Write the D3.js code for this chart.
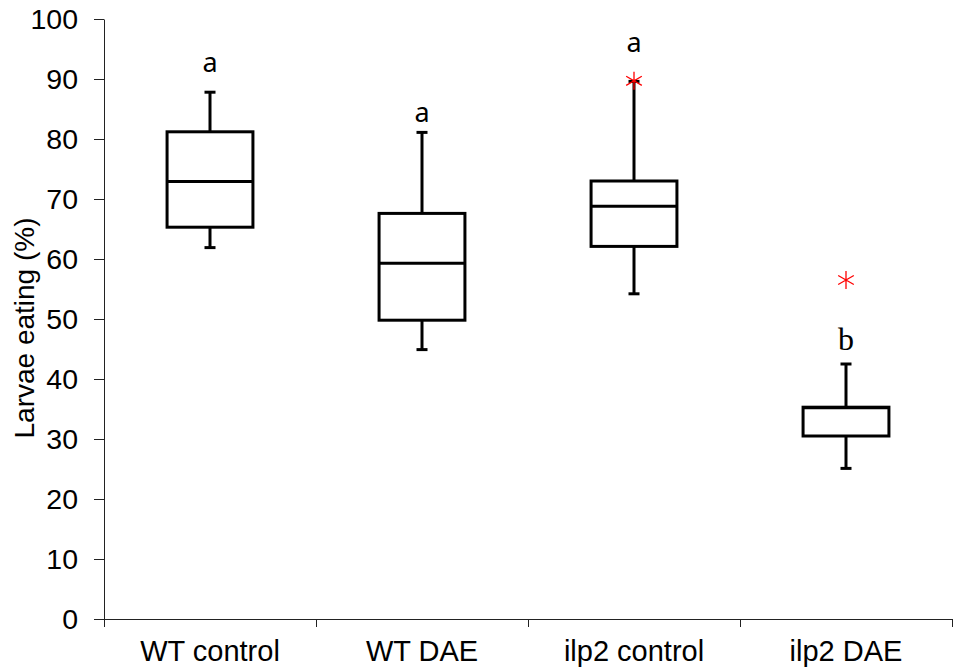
<!DOCTYPE html>
<html>
<head>
<meta charset="utf-8">
<script src="https://cdn.jsdelivr.net/npm/d3@7"></script>
<style>
body { margin: 0; background: #fff; }
</style>
</head>
<body>
<svg id="chart"></svg>
<script>
// values
const categories = ["WT control", "WT DAE", "ilp2 control", "ilp2 DAE"];
const whiskerLow = [61.9, 44.9, 54.2, 25.1];
const quartile1 = [65.3, 49.8, 62.1, 30.5];
const medians = [72.9, 59.3, 68.8, 35.2];
const quartile3 = [81.2, 67.6, 73.0, 35.3];
const whiskerHigh = [87.8, 81.1, 89.6, 42.5];
const outlierCats = ["ilp2 control", "ilp2 DAE"];
const outlierValues = [89.7, 56.5];
const groupLetters = ["a", "a", "a", "b"];
const letterLevels = [91.2, 82.9, 94.5, 44.8];
const yTicks = [0, 10, 20, 30, 40, 50, 60, 70, 80, 90, 100];

const margin = { top: 19, right: 13, bottom: 51, left: 104 };
const width = 965 - margin.left - margin.right;
const height = 670 - margin.top - margin.bottom;
const labelFont = "'Liberation Sans', Arial, sans-serif";

const svg = d3.select("#chart")
    .attr("width", 965)
    .attr("height", 670);

const g = svg.append("g")
    .attr("transform", `translate(${margin.left},${margin.top})`);

const x = d3.scaleBand().domain(categories).range([0, width]).padding(0);
const xEdges = d3.scaleLinear().domain([0, categories.length]).range([0, width]);
const y = d3.scaleLinear().domain([0, 100]).range([height, 0]);

const boxW = x.bandwidth() * 0.405;
const capW = 11;

// y axis
const yAxis = g.append("g")
    .call(d3.axisLeft(y).tickValues(yTicks).tickSize(10).tickSizeOuter(0).tickPadding(16));
yAxis.selectAll("text")
    .style("font-family", labelFont)
    .style("font-size", "28.5px")
    .attr("fill", "#000");
yAxis.selectAll("line, path").attr("stroke", "#222");

// x axis: ticks on the category edges, labels in the middle
const xAxis = g.append("g")
    .attr("transform", `translate(0,${height})`)
    .call(d3.axisBottom(xEdges).ticks(categories.length).tickFormat("").tickSize(8).tickSizeOuter(0));
xAxis.selectAll("line, path").attr("stroke", "#222");
xAxis.select(".domain").attr("d", `M-9,0.5H${width}`);

const xLabels = g.append("g")
    .attr("transform", `translate(0,${height})`)
    .call(d3.axisBottom(x).tickSize(0).tickPadding(21));
xLabels.select(".domain").remove();
xLabels.selectAll("text")
    .style("font-family", labelFont)
    .style("font-size", "29px")
    .attr("fill", "#000");

// y label
svg.append("text")
    .attr("transform", "rotate(-90)")
    .attr("x", -328)
    .attr("y", 34)
    .attr("text-anchor", "middle")
    .style("font-family", labelFont)
    .style("font-size", "28px")
    .text("Larvae eating (%)");

// boxes
const boxes = g.selectAll(".box")
    .data(categories)
    .join("g")
    .attr("class", "box")
    .attr("transform", d => `translate(${x(d) + x.bandwidth() / 2},0)`);

boxes.append("line")
    .attr("y1", (d, i) => y(whiskerHigh[i]))
    .attr("y2", (d, i) => y(quartile3[i]))
    .attr("stroke", "#000").attr("stroke-width", 3);
boxes.append("line")
    .attr("y1", (d, i) => y(quartile1[i]))
    .attr("y2", (d, i) => y(whiskerLow[i]))
    .attr("stroke", "#000").attr("stroke-width", 3);
boxes.append("line")
    .attr("x1", -capW / 2).attr("x2", capW / 2)
    .attr("y1", (d, i) => y(whiskerHigh[i]))
    .attr("y2", (d, i) => y(whiskerHigh[i]))
    .attr("stroke", "#000").attr("stroke-width", 3);
boxes.append("line")
    .attr("x1", -capW / 2).attr("x2", capW / 2)
    .attr("y1", (d, i) => y(whiskerLow[i]))
    .attr("y2", (d, i) => y(whiskerLow[i]))
    .attr("stroke", "#000").attr("stroke-width", 3);
boxes.append("rect")
    .attr("x", -boxW / 2)
    .attr("width", boxW)
    .attr("y", (d, i) => y(quartile3[i]))
    .attr("height", (d, i) => y(quartile1[i]) - y(quartile3[i]))
    .attr("fill", "#fff")
    .attr("stroke", "#000").attr("stroke-width", 3);
boxes.append("line")
    .attr("x1", -boxW / 2).attr("x2", boxW / 2)
    .attr("y1", (d, i) => y(medians[i]))
    .attr("y2", (d, i) => y(medians[i]))
    .attr("stroke", "#000").attr("stroke-width", 3);

// outliers
const star = d3.symbol().type(d3.symbolAsterisk).size(230);
g.selectAll(".outlier")
    .data(outlierCats)
    .join("path")
    .attr("class", "outlier")
    .attr("d", star)
    .attr("transform", (d, i) => `translate(${x(d) + x.bandwidth() / 2},${y(outlierValues[i])})`)
    .attr("fill", "none")
    .attr("stroke", "#ff0000")
    .attr("stroke-width", 1.3);

// significance letters
g.selectAll(".letter")
    .data(groupLetters)
    .join("text")
    .attr("class", "letter")
    .attr("x", (d, i) => x(categories[i]) + x.bandwidth() / 2)
    .attr("y", (d, i) => y(letterLevels[i]))
    .attr("text-anchor", "middle")
    .style("font-family", d => d === "b" ? "'Liberation Serif', serif" : "'Noto Sans', sans-serif")
    .style("font-size", d => d === "b" ? "32px" : "27px")
    .text(d => d);
</script>
</body>
</html>
